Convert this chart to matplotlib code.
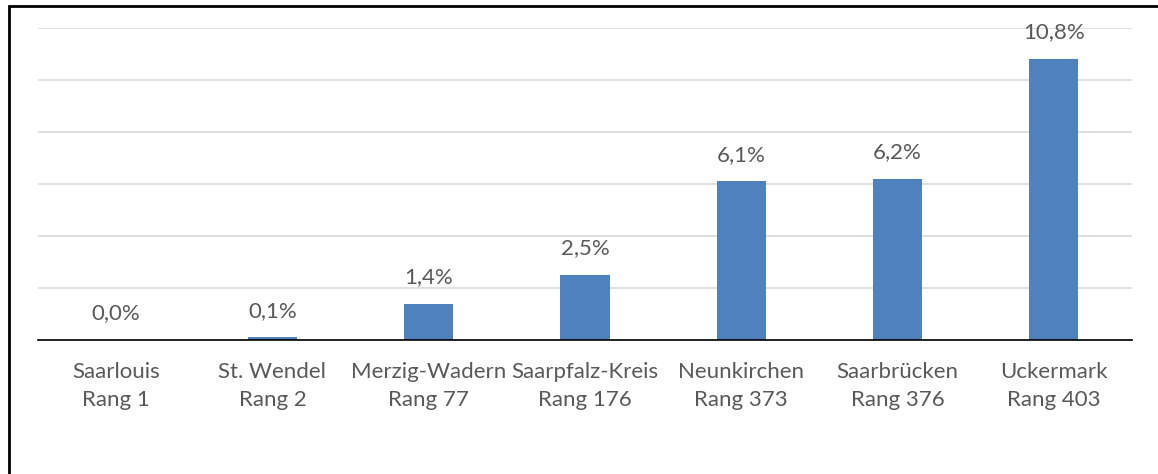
import numpy as np
import matplotlib.pyplot as plt
from matplotlib.patches import Rectangle

# Data
kreise = ["Saarlouis", "St. Wendel", "Merzig-Wadern", "Saarpfalz-Kreis",
          "Neunkirchen", "Saarbrücken", "Uckermark"]
raenge = [1, 2, 77, 176, 373, 376, 403]
werte = [0.0, 0.1, 1.4, 2.5, 6.1, 6.2, 10.8]

plt.rcParams['font.family'] = ['Lato', 'DejaVu Sans']
text_col = '#595959'

fig = plt.figure(figsize=(11.58, 4.74), dpi=100)
ax = fig.add_axes([38 / 1158, 1 - 340 / 474, 1094 / 1158, 312 / 474])

x = np.arange(len(kreise))
ax.bar(x, werte, width=0.315, color='#4F81BD', zorder=3)

for xi, v in zip(x, werte):
    ax.annotate(f"{v:.1f}%".replace('.', ','), (xi, v), xytext=(0, 12),
                textcoords='offset points', ha='center', va='bottom',
                fontsize=16, color=text_col)

ax.set_xlim(-0.5, len(kreise) - 0.5)
ax.set_ylim(0, 12)
ax.set_yticks(np.arange(0, 13, 2))
ax.yaxis.grid(True, color='#D9D9D9', linewidth=1.2, zorder=0)
ax.tick_params(axis='y', left=False, labelleft=False)
ax.tick_params(axis='x', bottom=False, pad=12)
ax.set_xticks(x)
ax.set_xticklabels([f"{k}\nRang {r}" for k, r in zip(kreise, raenge)],
                   fontsize=16, color=text_col, linespacing=1.55)
for s in ['top', 'right', 'left']:
    ax.spines[s].set_visible(False)
ax.spines['bottom'].set_color('#000000')
ax.spines['bottom'].set_linewidth(1.2)
ax.spines['bottom'].set_zorder(4)

# outer frame (left and top edge visible)
fig.patches.append(Rectangle((9 / 1158, -0.1), 1.2, 1 - 6 / 474 + 0.1,
                             transform=fig.transFigure, fill=False,
                             edgecolor='black', linewidth=2))

fig.savefig("out.png", dpi=100)
